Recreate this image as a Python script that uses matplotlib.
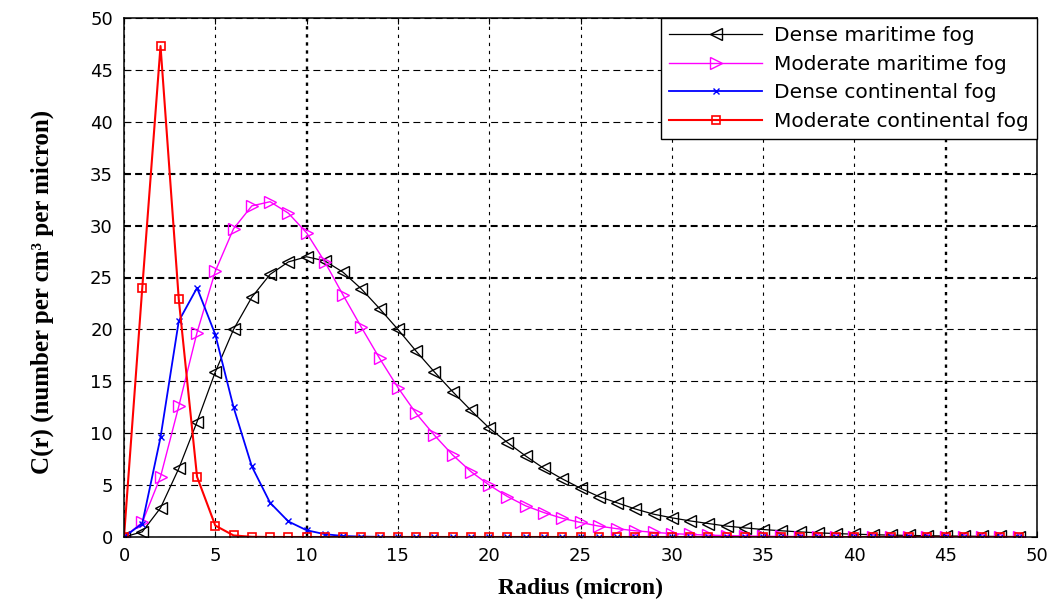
import numpy as np
import matplotlib
matplotlib.use("Agg")
import matplotlib.pyplot as plt

# Droplet radius samples (micron)
radius = list(range(0, 50))

# Size distributions C(r), number per cm^3 per micron
dense_maritime = [0.0, 0.5, 2.8, 6.6, 11.1, 15.9, 20.0, 23.1, 25.3, 26.5,
                  27.0, 26.6, 25.5, 23.9, 22.0, 20.0, 17.9, 15.9, 14.0, 12.2,
                  10.5, 9.1, 7.8, 6.6, 5.6, 4.7, 3.9, 3.3, 2.7, 2.2,
                  1.85, 1.55, 1.3, 1.05, 0.88, 0.72, 0.6, 0.49, 0.4, 0.33,
                  0.27, 0.22, 0.18, 0.15, 0.12, 0.1, 0.08, 0.065, 0.05, 0.04]

moderate_maritime = [0.0, 1.4, 5.8, 12.6, 19.7, 25.6, 29.7, 31.9, 32.3, 31.2,
                     29.3, 26.5, 23.3, 20.2, 17.2, 14.4, 11.9, 9.8, 7.9, 6.3,
                     5.0, 3.9, 3.0, 2.35, 1.8, 1.4, 1.05, 0.8, 0.6, 0.45,
                     0.33, 0.25, 0.18, 0.13, 0.1, 0.07, 0.05, 0.04, 0.03, 0.02,
                     0.015, 0.01, 0.008, 0.006, 0.004, 0.003, 0.002, 0.002, 0.001, 0.001]

dense_continental = [0.0, 1.3, 9.6, 20.8, 24.0, 19.5, 12.5, 6.8, 3.3, 1.5,
                     0.65, 0.27, 0.1, 0.04, 0.015, 0.0, 0.0, 0.0, 0.0, 0.0,
                     0.0, 0.0, 0.0, 0.0, 0.0, 0.0, 0.0, 0.0, 0.0, 0.0,
                     0.0, 0.0, 0.0, 0.0, 0.0, 0.0, 0.0, 0.0, 0.0, 0.0,
                     0.0, 0.0, 0.0, 0.0, 0.0, 0.0, 0.0, 0.0, 0.0, 0.0]

moderate_continental = [0.0, 24.0, 47.3, 22.9, 5.8, 1.1, 0.15, 0.02, 0.0, 0.0,
                        0.0, 0.0, 0.0, 0.0, 0.0, 0.0, 0.0, 0.0, 0.0, 0.0,
                        0.0, 0.0, 0.0, 0.0, 0.0, 0.0, 0.0, 0.0, 0.0, 0.0,
                        0.0, 0.0, 0.0, 0.0, 0.0, 0.0, 0.0, 0.0, 0.0, 0.0,
                        0.0, 0.0, 0.0, 0.0, 0.0, 0.0, 0.0, 0.0, 0.0, 0.0]

series_labels = ["Dense maritime fog", "Moderate maritime fog",
                 "Dense continental fog", "Moderate continental fog"]
ticks = list(range(0, 51, 5))

plt.rcParams["lines.scale_dashes"] = False
plt.rcParams["font.family"] = ["DejaVu Sans"]

fig = plt.figure(figsize=(10.53, 6.03), dpi=100)
ax = fig.add_axes([124 / 1053, 1 - 537 / 603, 913 / 1053, 519 / 603])

ax.plot(radius, dense_maritime, color="black", lw=0.9, marker="<",
        ms=9, mfc="none", mec="black", mew=1.0, label=series_labels[0])
ax.plot(radius, moderate_maritime, color="magenta", lw=1.0, marker=">",
        ms=9, mfc="none", mec="magenta", mew=1.0, label=series_labels[1])
ax.plot(radius, dense_continental, color="blue", lw=1.3, marker="x",
        ms=5, mec="blue", mew=1.0, label=series_labels[2])
ax.plot(radius, moderate_continental, color="red", lw=1.5, marker="s",
        ms=5.5, mfc="none", mec="red", mew=1.2, label=series_labels[3])

ax.set_xlim(0, 50)
ax.set_ylim(0, 50)
ax.set_xticks(ticks)
ax.set_yticks(ticks)
ax.tick_params(direction="in", top=True, right=True, length=4, width=0.8,
               labelsize=13, colors="black")
ax.tick_params(axis="x", pad=7)
ax.tick_params(axis="y", pad=8)
for sp in ax.spines.values():
    sp.set_linewidth(1.1)
    sp.set_color("black")

# Grid: dashed horizontals, dotted verticals
ax.grid(True, axis="y", color="black", lw=0.8, linestyle=(0, (5, 3)))
ax.grid(True, axis="x", color="black", lw=0.8, linestyle=(0, (2.4, 3.4)))
for val, gl in zip(ticks, ax.xaxis.get_gridlines()):
    if val in (10, 45):
        gl.set_linewidth(1.7)
for val, gl in zip(ticks, ax.yaxis.get_gridlines()):
    if val in (25, 30, 35):
        gl.set_linewidth(1.5)
ax.set_axisbelow(True)

leg = ax.legend(loc="upper right", borderaxespad=0, fontsize=14.5,
                fancybox=False, framealpha=1, edgecolor="black",
                handlelength=4.6, handletextpad=0.6, labelspacing=0.48,
                borderpad=0.4, numpoints=1)
leg.get_frame().set_linewidth(1.0)

fig.text(42 / 1053, 1 - 292 / 603, "C(r) (number per cm\u00b3 per micron)",
         rotation=90, ha="center", va="center", fontsize=18,
         fontweight="bold", family="Liberation Serif")
fig.text(581 / 1053, 1 - 588 / 603, "Radius (micron)", ha="center",
         va="center", fontsize=17, fontweight="bold", family="Liberation Serif")

fig.savefig("out.png", dpi=100, facecolor="white")
